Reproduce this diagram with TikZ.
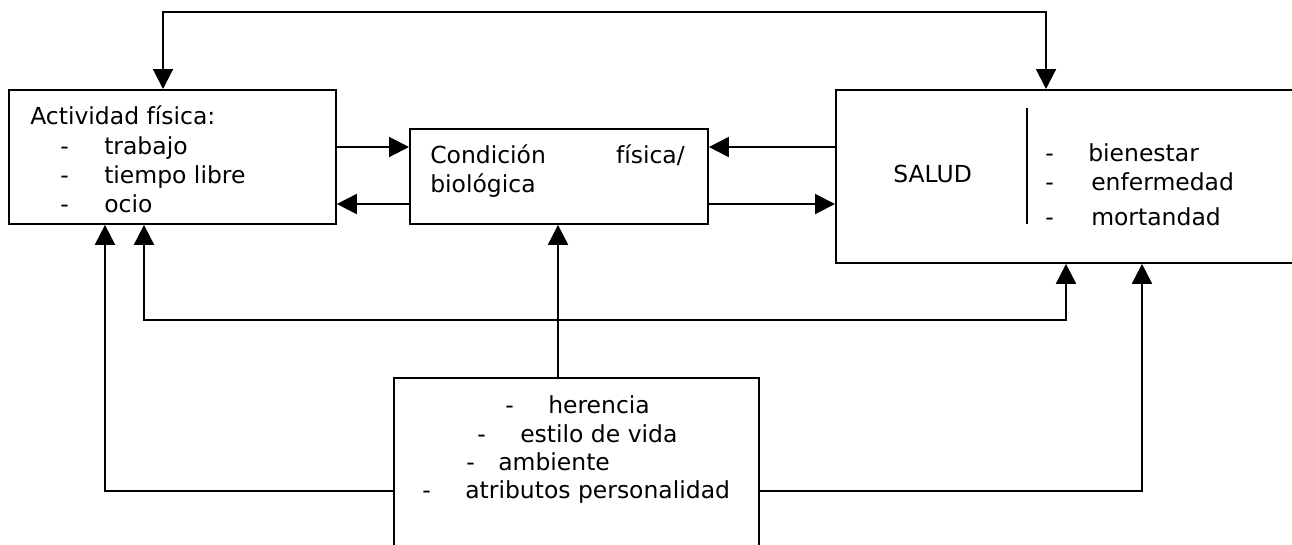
\documentclass[tikz,border=0pt]{standalone}
\usepackage{fontspec}
\setmainfont{DejaVu Sans}
\usetikzlibrary{arrows.meta}
\begin{document}
\begin{tikzpicture}[x=0.75pt,y=-0.75pt,
  box/.style={draw, line width=1.4pt, anchor=north west, inner sep=0pt},
  txt/.style={inner sep=0pt, anchor=base west, font=\fontsize{17.6}{21}\selectfont},
  txte/.style={txt, anchor=base east},
  conn/.style={line width=1.5pt, -{Triangle[length=15pt,width=15pt]}},
  conn2/.style={line width=1.5pt, {Triangle[length=15pt,width=15pt]}-{Triangle[length=15pt,width=15pt]}}]
\useasboundingbox (0,0) rectangle (1292,544);
\clip (0,0) rectangle (1292,544);
% boxes
\node[box, minimum width=245.25pt, minimum height=100.5pt] (A) at (8,89) {};
\node[box, minimum width=223.5pt, minimum height=71.25pt] (C) at (409,128) {};
\node[box, minimum width=360pt, minimum height=129.75pt] (S) at (835,89) {};
\node[box, minimum width=273.75pt, minimum height=150pt] (B) at (393,377) {};
% texts A
\node[txt] (a0) at (30,124) {Actividad física:};
\node[txt] (a1d) at (60,154) {-};
\node[txt] (a1) at (104,154) {trabajo};
\node[txt] (a2d) at (60,183) {-};
\node[txt] (a2) at (104,183) {tiempo libre};
\node[txt] (a3d) at (60,212) {-};
\node[txt] (a3) at (104,212) {ocio};
% texts C
\node[txt] (c1) at (430,163) {Condición};
\node[txte] (c2) at (685,163) {física/};
\node[txt] (c3) at (430,192) {biológica};
% texts S
\node[txt] (s0) at (893,182) {SALUD};
\node[txt] (s1d) at (1045,161) {-};
\node[txt] (s1) at (1088,161) {bienestar};
\node[txt] (s2d) at (1045,190) {-};
\node[txt] (s2) at (1091,190) {enfermedad};
\node[txt] (s3d) at (1045,225) {-};
\node[txt] (s3) at (1091,225) {mortandad};
\coordinate (dv1) at (1027,108);
\coordinate (dv2) at (1027,224);
\draw[line width=1.5pt] (dv1) -- (dv2);
% texts B
\node[txt] (b1d) at (505,413) {-};
\node[txt] (b1) at (548,413) {herencia};
\node[txt] (b2d) at (477,442) {-};
\node[txt] (b2) at (520,442) {estilo de vida};
\node[txt] (b3d) at (466,470) {-};
\node[txt] (b3) at (498,470) {ambiente};
\node[txt] (b4d) at (422,498) {-};
\node[txt] (b4) at (465,498) {atributos personalidad};
% connectors
\coordinate (yu) at (0,147);
\coordinate (yl) at (0,204);
\draw[conn] (A.east |- yu) -- (C.west |- yu);
\draw[conn] (C.west |- yl) -- (A.east |- yl);
\draw[conn] (S.west |- yu) -- (C.east |- yu);
\draw[conn] (C.east |- yl) -- (S.west |- yl);
\coordinate (t1) at (163,12);
\coordinate (t2) at (1046,12);
\draw[conn2] (A.north -| t1) -- (t1) -- (t2) -- (S.north -| t2);
\coordinate (m1) at (144,320);
\coordinate (m2) at (1066,320);
\draw[conn2] (A.south -| m1) -- (m1) -- (m2) -- (S.south -| m2);
\coordinate (cx) at (558,0);
\draw[conn] (B.north -| cx) -- (C.south -| cx);
\coordinate (l1) at (105,491);
\draw[conn] (B.west |- l1) -- (l1) -- (A.south -| l1);
\coordinate (r1) at (1142,491);
\draw[conn] (B.east |- r1) -- (r1) -- (S.south -| r1);
\end{tikzpicture}
\end{document}
